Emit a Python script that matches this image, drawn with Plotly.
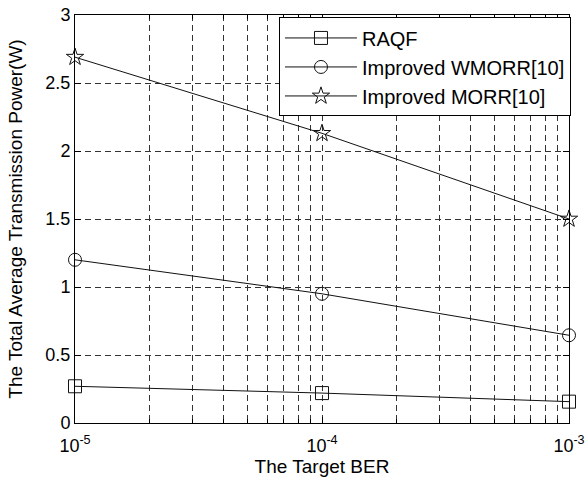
import plotly.graph_objects as go

ber = [1e-5, 1e-4, 1e-3]
raqf = [0.27, 0.22, 0.157]
wmorr = [1.2, 0.95, 0.645]
morr = [2.69, 2.13, 1.5]
names = ["RAQF", "Improved WMORR[10]", "Improved MORR[10]"]
xtickvals = [1e-5, 1e-4, 1e-3]
xticktext = ["10<sup>-5</sup>", "10<sup>-4</sup>", "10<sup>-3</sup>"]
xminorvals = [m * d for d in (1e-5, 1e-4) for m in range(2, 10)]

FONT = "Liberation Sans, Arial, sans-serif"
fig = go.Figure()
for vals, nm, sym, sz in [(raqf, names[0], "square-open", 13),
                          (wmorr, names[1], "circle-open", 13),
                          (morr, names[2], "star-open", 13)]:
    fig.add_trace(go.Scatter(x=ber, y=vals, name=nm, mode="lines+markers",
                             cliponaxis=False,
                             line=dict(color="#111", width=1),
                             marker=dict(symbol=sym, size=sz, color="#111",
                                         line=dict(width=1, color="#111"))))

GC = "#333"
fig.update_xaxes(type="log", range=[-5.000001, -2.999999], tickmode="array",
                 tickvals=xtickvals, ticktext=xticktext, automargin=False,
                 ticks="inside", ticklen=6, tickcolor="black", ticklabelstandoff=6,
                 showline=True, linecolor="black", linewidth=1, mirror="allticks",
                 showgrid=True, gridcolor=GC, gridwidth=0.6, griddash="6px,4px",
                 zeroline=False,
                 minor=dict(tickmode="array", tickvals=xminorvals,
                            ticks="inside", ticklen=4, tickcolor="black", showgrid=True,
                            gridcolor=GC, gridwidth=0.6, griddash="6px,4px"),
                 tickfont=dict(family=FONT, size=18, color="black"),
                 title=dict(text="The Target BER", font=dict(family=FONT, size=19, color="black"),
                            standoff=5))
fig.update_yaxes(range=[0, 3], tick0=0, dtick=0.5, automargin=False,
                 ticks="inside", ticklen=6, tickcolor="black",
                 showline=True, linecolor="black", linewidth=1, mirror="allticks",
                 showgrid=True, gridcolor=GC, gridwidth=0.6, griddash="6px,4px",
                 zeroline=False,
                 tickfont=dict(family=FONT, size=18, color="black"),
                 title=dict(text="The Total Average Transmission Power(W)",
                            font=dict(family=FONT, size=19, color="black"), standoff=17))
fig.update_layout(width=585, height=484, margin=dict(l=75, r=16, t=15, b=61),
                  paper_bgcolor="white", plot_bgcolor="white",
                  font=dict(family=FONT, color="black"),
                  legend=dict(x=1.004, y=0.994, xanchor="right", yanchor="top",
                              bgcolor="white", bordercolor="black", borderwidth=1,
                              font=dict(family=FONT, size=20, color="black"),
                              itemwidth=72, tracegroupgap=0))
fig.write_html("out.html")
